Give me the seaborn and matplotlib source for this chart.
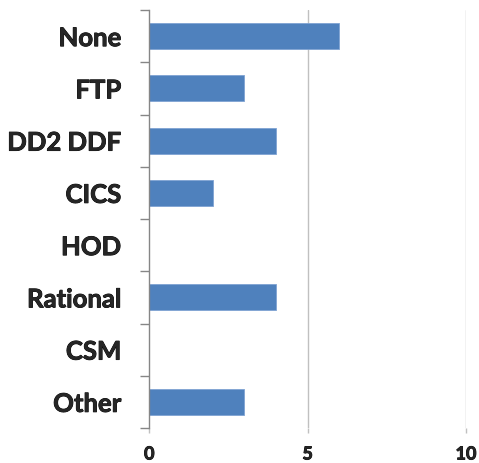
import matplotlib
matplotlib.use("Agg")
import matplotlib.pyplot as plt
import matplotlib.patheffects as pe
import numpy as np
import pandas as pd
import seaborn as sns

categories = ["None", "FTP", "DD2 DDF", "CICS", "HOD", "Rational", "CSM", "Other"]
counts = [6, 3, 4, 2, 0, 4, 0, 3]
x_ticks = [0, 5, 10]

BAR = "#4F81BD"
AXIS = "#868686"
GRID = "#C0C0C0"

sns.set_style("white")
plt.rcParams["font.family"] = ["Lato", "DejaVu Sans"]

df = pd.DataFrame({"tool": categories, "count": counts})

fig = plt.figure(figsize=(4.79, 4.63), dpi=100)
ax = fig.add_axes([149.3 / 479, 1 - 428 / 463, (466 - 149.3) / 479, (428 - 10) / 463])

sns.barplot(data=df, x="count", y="tool", orient="h", color=BAR, saturation=1,
            width=0.5, edgecolor="#7FA3D3", linewidth=0.6, ax=ax, zorder=3)

ax.set_xlim(0, 10)
ax.set_ylim(len(categories) - 0.5, -0.5)
ax.set_xticks(x_ticks)
ax.set_xticklabels([str(t) for t in x_ticks], fontsize=13, fontweight="bold")
ax.set_yticks(range(len(categories)))
ax.set_yticklabels(categories, fontsize=18.5, fontweight="bold")
ax.set_yticks(np.arange(-0.5, len(categories)), minor=True)
ax.set_xlabel("")
ax.set_ylabel("")

# slightly heavier strokes, closer to the Calibri bold look
thick = [pe.withStroke(linewidth=0.6, foreground="black")]
for lbl in ax.get_yticklabels() + ax.get_xticklabels():
    lbl.set_path_effects(thick)

# vertical gridlines at 5 and 10
for t in x_ticks[1:]:
    ax.axvline(t, color=GRID, lw=1, zorder=1)

for side in ["top", "right", "bottom"]:
    ax.spines[side].set_visible(False)
ax.spines["left"].set_color(AXIS)
ax.spines["left"].set_linewidth(1)
ax.spines["left"].set_zorder(4)

ax.tick_params(axis="y", which="major", length=0, pad=20)
ax.tick_params(axis="y", which="minor", length=6.5, width=1, color=AXIS, left=True)
ax.tick_params(axis="x", which="major", length=3.6, width=1, color=GRID,
               bottom=True, pad=9)

fig.savefig("out.png", dpi=100)
